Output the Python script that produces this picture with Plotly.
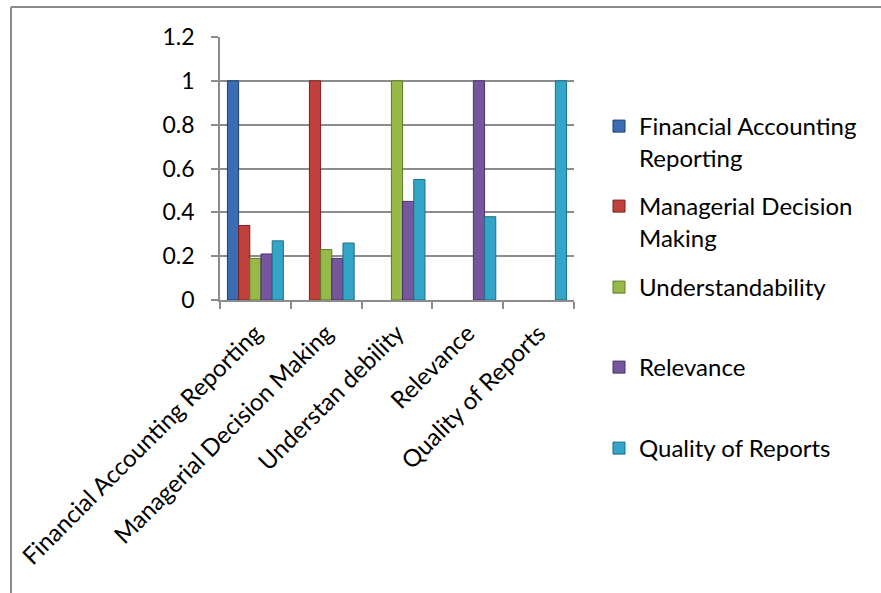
import plotly.graph_objects as go

categories = ["Financial Accounting Reporting", "Managerial Decision Making",
              "Understan debility", "Relevance", "Quality of Reports"]
series_names = ["Financial Accounting<br>Reporting", "Managerial Decision<br>Making",
                "Understandability", "Relevance", "Quality of Reports"]
far = [1, None, None, None, None]
mdm = [0.34, 1, None, None, None]
und = [0.19, 0.23, 1, None, None]
rel = [0.21, 0.19, 0.45, 1, None]
qor = [0.27, 0.26, 0.55, 0.38, 1]
y_ticks = [0, 0.2, 0.4, 0.6, 0.8, 1, 1.2]
y_tick_text = ["0", "0.2", "0.4", "0.6", "0.8", "1", "1.2"]

series_values = [far, mdm, und, rel, qor]
fill_colors = ["#3A6DB3", "#C0413C", "#97B94A", "#76579D", "#33A5C7"]
line_colors = ["#1F3F6E", "#7A2220", "#5E7A25", "#48326A", "#1C6E86"]

W, H = 881, 593
ML, MR, MT, MB = 220, 307, 37, 293
FONT = "Lato"
FS = 23
FS_LEG = 24
FS_X = 24

fig = go.Figure()
legend_ids = ["legend", "legend2", "legend3", "legend4", "legend5"]
for name, vals, fc, lc, lid in zip(series_names, series_values, fill_colors, line_colors, legend_ids):
    fig.add_trace(go.Bar(x=categories, y=vals, name=name, legend=lid,
                         marker=dict(color=fc, line=dict(color=lc, width=1))))

# legend first-line centers (px)
legend_line_y = [124, 204, 285, 365, 446]
legend_layout = {}
for lid, py in zip(legend_ids, legend_line_y):
    legend_layout[lid] = dict(
        xref="container", yref="container",
        x=599 / W, y=1 - (py - 20) / H, xanchor="left", yanchor="top",
        valign="top", bgcolor="rgba(0,0,0,0)",
        font=dict(family=FONT, size=FS_LEG, color="black"),
        itemwidth=30,
    )

px2x = lambda px: (px - ML) / (W - ML - MR)
py2y = lambda py: (H - MB - py) / (H - MT - MB)

fig.update_layout(
    width=W, height=H,
    margin=dict(l=ML, r=MR, t=MT, b=MB),
    paper_bgcolor="white", plot_bgcolor="white",
    barmode="group", bargap=0.21, bargroupgap=0,
    font=dict(family=FONT, size=FS, color="black"),
    showlegend=True,
    **legend_layout,
    shapes=[
        dict(type="line", xref="paper", yref="paper",
             x0=px2x(11), x1=px2x(W + 10), y0=py2y(7), y1=py2y(7),
             line=dict(color="#8C8C8C", width=2)),
        dict(type="line", xref="paper", yref="paper",
             x0=px2x(11), x1=px2x(11), y0=py2y(7), y1=py2y(H + 10),
             line=dict(color="#8C8C8C", width=2)),
    ],
)
fig.update_xaxes(
    type="category", tickangle=-45, tickson="boundaries",
    ticks="outside", ticklen=7, tickcolor="#8C8C8C", tickwidth=1.5,
    ticklabelstandoff=8,
    showline=True, linecolor="#8C8C8C", linewidth=1.5,
    showgrid=False, tickfont=dict(family=FONT, size=FS_X, color="black"),
)
fig.update_yaxes(
    range=[0, 1.2], tickvals=y_ticks, ticktext=y_tick_text,
    ticks="outside", ticklen=7, tickcolor="#8C8C8C", tickwidth=1.5,
    ticklabelstandoff=12,
    showline=True, linecolor="#8C8C8C", linewidth=1.5,
    showgrid=True, gridcolor="#8C8C8C", gridwidth=1.5,
    zeroline=False, tickfont=dict(family=FONT, size=FS, color="black"),
)

fig.write_html("out.html")
